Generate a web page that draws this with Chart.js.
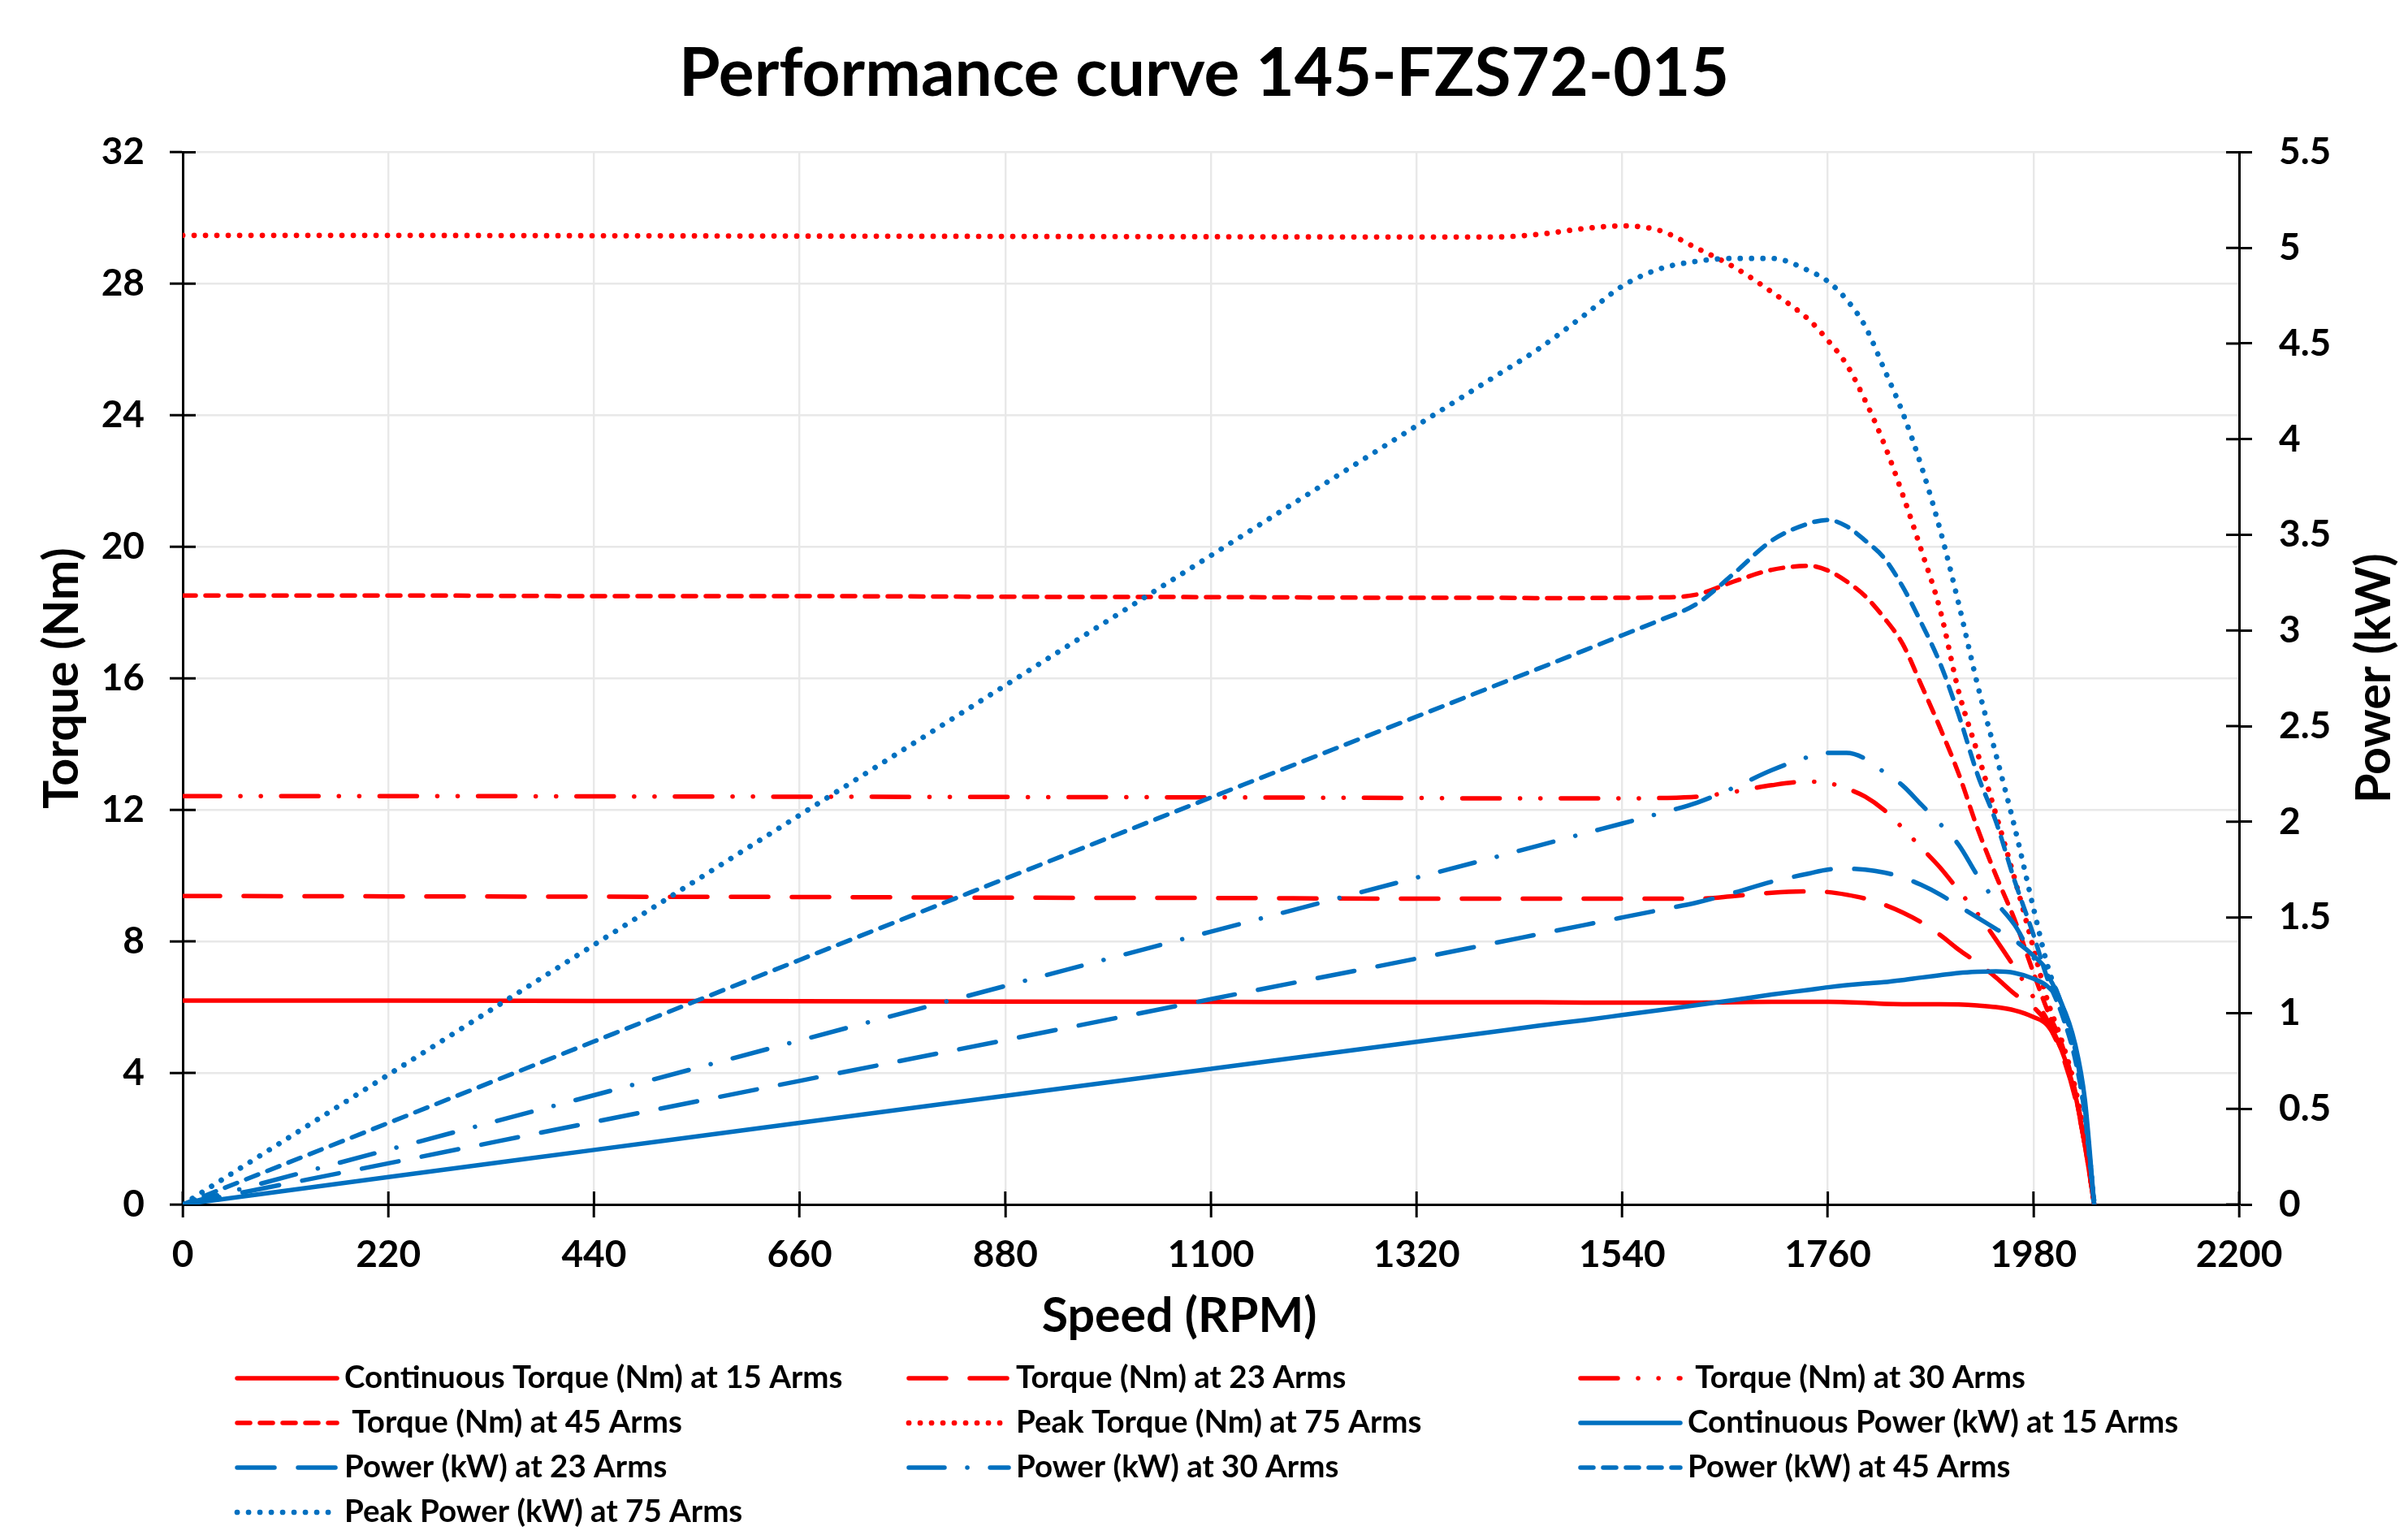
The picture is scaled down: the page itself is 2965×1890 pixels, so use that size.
<!DOCTYPE html>
<html>
<head>
<meta charset="utf-8">
<title>Performance curve 145-FZS72-015</title>
<script src="https://cdn.jsdelivr.net/npm/chart.js@4.4.1/dist/chart.umd.min.js"></script>
<style>
  html, body { margin: 0; padding: 0; background: #fff; }
  canvas { display: block; }
</style>
</head>
<body>
<canvas id="perf" width="2965" height="1890"></canvas>
<script>
// speed (RPM) sample points shared by every curve
const speed = [0, 220, 440, 660, 880, 1100, 1320,
  1400, 1450, 1500, 1540, 1580, 1620, 1660, 1700, 1740, 1760, 1780, 1800,
  1820, 1840, 1860, 1880, 1900, 1920, 1940, 1960, 1980,
  1995, 2010, 2025, 2035, 2045];

// torque (Nm)
const contTorque15 = [6.20, 6.20, 6.19, 6.18, 6.17, 6.16, 6.15,
  6.15, 6.15, 6.14, 6.14, 6.14, 6.14, 6.15, 6.16, 6.16, 6.16, 6.15, 6.13,
  6.10, 6.09, 6.09, 6.09, 6.08, 6.05, 6.00, 5.90, 5.70,
  5.45, 4.70, 3.30, 1.80, 0];
const torque23 = [9.38, 9.37, 9.36, 9.35, 9.33, 9.32, 9.30,
  9.30, 9.30, 9.30, 9.30, 9.30, 9.30, 9.38, 9.48, 9.52, 9.50, 9.42, 9.30,
  9.12, 8.88, 8.58, 8.20, 7.75, 7.35, 6.90, 6.40, 6.00,
  5.50, 4.60, 3.20, 1.80, 0];
const torque30 = [12.42, 12.42, 12.41, 12.40, 12.39, 12.38, 12.36,
  12.35, 12.35, 12.35, 12.35, 12.36, 12.40, 12.55, 12.75, 12.86, 12.82, 12.65, 12.40,
  12.00, 11.45, 10.85, 10.25, 9.55, 8.85, 8.05, 7.20, 6.30,
  5.60, 4.70, 3.30, 1.80, 0];
const torque45 = [18.52, 18.52, 18.50, 18.50, 18.48, 18.47, 18.45,
  18.45, 18.44, 18.44, 18.45, 18.46, 18.55, 18.95, 19.30, 19.42, 19.28, 18.95, 18.50,
  17.85, 17.05, 15.80, 14.50, 13.10, 11.45, 10.00, 8.65, 7.05,
  5.90, 4.90, 3.40, 1.90, 0];
const peakTorque75 = [29.47, 29.47, 29.46, 29.45, 29.44, 29.43, 29.42,
  29.42, 29.50, 29.68, 29.76, 29.62, 29.08, 28.50, 27.75, 26.90, 26.28, 25.55, 24.45,
  23.15, 21.60, 19.90, 18.10, 15.60, 13.75, 11.85, 9.90, 7.80,
  6.20, 5.00, 3.50, 2.00, 0];

// power (kW)
const contPower15 = [0, 0.143, 0.285, 0.427, 0.568, 0.709, 0.850,
  0.901, 0.934, 0.964, 0.990, 1.016, 1.042, 1.069, 1.097, 1.122, 1.135, 1.146, 1.155,
  1.162, 1.173, 1.186, 1.198, 1.210, 1.216, 1.218, 1.210, 1.180,
  1.140, 1.050, 0.830, 0.550, 0];
const power23 = [0, 0.215, 0.431, 0.646, 0.859, 1.073, 1.285,
  1.363, 1.412, 1.461, 1.500, 1.539, 1.578, 1.630, 1.687, 1.730, 1.750, 1.755, 1.750,
  1.735, 1.710, 1.670, 1.620, 1.560, 1.500, 1.440, 1.380, 1.300,
  1.220, 1.050, 0.800, 0.500, 0];
const power30 = [0, 0.286, 0.571, 0.857, 1.142, 1.426, 1.708,
  1.810, 1.875, 1.940, 1.991, 2.044, 2.100, 2.180, 2.270, 2.340, 2.360, 2.360, 2.330,
  2.260, 2.190, 2.090, 1.990, 1.880, 1.720, 1.580, 1.460, 1.290,
  1.200, 1.050, 0.800, 0.500, 0];
const power45 = [0, 0.426, 0.852, 1.278, 1.703, 2.127, 2.550,
  2.704, 2.800, 2.897, 2.975, 3.053, 3.140, 3.300, 3.470, 3.560, 3.578, 3.545, 3.470,
  3.380, 3.230, 3.040, 2.830, 2.560, 2.250, 2.000, 1.690, 1.410,
  1.180, 1.000, 0.750, 0.470, 0];
const peakPower75 = [0, 0.678, 1.357, 2.035, 2.713, 3.392, 4.070,
  4.316, 4.470, 4.650, 4.800, 4.890, 4.930, 4.945, 4.945, 4.880, 4.825, 4.730, 4.590,
  4.370, 4.140, 3.860, 3.530, 3.140, 2.720, 2.350, 1.970, 1.550,
  1.250, 1.030, 0.780, 0.480, 0];

// axis ticks
const speedTicks = [0, 220, 440, 660, 880, 1100, 1320, 1540, 1760, 1980, 2200];
const torqueTicks = [0, 4, 8, 12, 16, 20, 24, 28, 32];
const powerTicks = [0, 0.5, 1, 1.5, 2, 2.5, 3, 3.5, 4, 4.5, 5, 5.5];

const RED = '#FF0000';
const BLUE = '#0070C0';
const FONT = 'Lato, "Open Sans", sans-serif';
const SOLID = [];
const LONG_DASH = [46, 29];
const DASH_DOT = [44, 28, 0.1, 28];
const DASH_DOT_DOT = [46, 25, 0.1, 25, 0.1, 25];
const SHORT_DASH = [16, 12];
const ROUND_DOT = [0.1, 13.9];

const series = [
  { label: 'Continuous Torque (Nm) at 15 Arms', values: contTorque15, axis: 'y', color: RED, dash: SOLID },
  { label: 'Torque (Nm) at 23 Arms', values: torque23, axis: 'y', color: RED, dash: LONG_DASH },
  { label: ' Torque (Nm) at 30 Arms', values: torque30, axis: 'y', color: RED, dash: DASH_DOT_DOT },
  { label: ' Torque (Nm) at 45 Arms', values: torque45, axis: 'y', color: RED, dash: SHORT_DASH },
  { label: 'Peak Torque (Nm) at 75 Arms', values: peakTorque75, axis: 'y', color: RED, dash: ROUND_DOT },
  { label: 'Continuous Power (kW) at 15 Arms', values: contPower15, axis: 'y1', color: BLUE, dash: SOLID },
  { label: 'Power (kW) at 23 Arms', values: power23, axis: 'y1', color: BLUE, dash: LONG_DASH },
  { label: 'Power (kW) at 30 Arms', values: power30, axis: 'y1', color: BLUE, dash: DASH_DOT },
  { label: 'Power (kW) at 45 Arms', values: power45, axis: 'y1', color: BLUE, dash: SHORT_DASH },
  { label: 'Peak Power (kW) at 75 Arms', values: peakPower75, axis: 'y1', color: BLUE, dash: ROUND_DOT }
];

Chart.defaults.font.family = FONT;
Chart.defaults.font.weight = 'bold';
Chart.defaults.color = '#000';

const datasets = series.map((s, i) => ({
  label: s.label,
  data: s.values.map((v, k) => ({ x: speed[k], y: v })),
  yAxisID: s.axis,
  borderColor: s.color,
  backgroundColor: s.color,
  borderWidth: s.dash === ROUND_DOT ? 6.7 : 5.5,
  borderDash: s.dash,
  borderCapStyle: 'round',
  borderJoinStyle: 'round',
  pointRadius: 0,
  cubicInterpolationMode: 'monotone',
  fill: false,
  order: series.length - i
}));

const useTicks = list => scale => { scale.ticks = list.map(v => ({ value: v })); };

// inner half of the crossing tick marks, axis titles drawn by hand, grid legend
const chartDecor = {
  id: 'chartDecor',
  beforeDatasetsDraw(chart) {
    const { ctx, chartArea: a, scales } = chart;
    ctx.save();
    ctx.strokeStyle = '#000';
    ctx.lineWidth = 3;
    ctx.beginPath();
    scales.x.ticks.forEach(t => {
      const px = scales.x.getPixelForValue(t.value);
      ctx.moveTo(px, a.bottom);
      ctx.lineTo(px, a.bottom - 16);
    });
    scales.y.ticks.forEach(t => {
      const py = scales.y.getPixelForValue(t.value);
      ctx.moveTo(a.left, py);
      ctx.lineTo(a.left + 16, py);
    });
    scales.y1.ticks.forEach(t => {
      const py = scales.y1.getPixelForValue(t.value);
      ctx.moveTo(a.right, py);
      ctx.lineTo(a.right - 16, py);
    });
    ctx.stroke();
    ctx.restore();
  },
  afterDraw(chart) {
    const { ctx, chartArea: a, scales } = chart;
    ctx.save();
    ctx.fillStyle = '#000';
    ctx.font = 'bold 59px ' + FONT;
    ctx.textAlign = 'center';
    ctx.textBaseline = 'middle';
    ctx.fillText('Speed (RPM)', (a.left + a.right) / 2 - 39, scales.x.bottom - 42);
    ctx.translate(scales.y1.right - 41, (a.top + a.bottom) / 2);
    ctx.rotate(-Math.PI / 2);
    ctx.fillText('Power (kW)', 0, 0);
    ctx.restore();

    const left = 292, top = 1697, colWidth = 827, rowHeight = 55, sample = 123;
    ctx.save();
    ctx.font = 'bold 38.5px ' + FONT;
    ctx.textBaseline = 'middle';
    ctx.textAlign = 'left';
    chart.data.datasets.forEach((ds, i) => {
      const x = left + (i % 3) * colWidth;
      const y = top + Math.floor(i / 3) * rowHeight;
      ctx.strokeStyle = ds.borderColor;
      ctx.lineWidth = ds.borderWidth;
      ctx.lineCap = 'round';
      ctx.setLineDash(ds.borderDash);
      ctx.beginPath();
      ctx.moveTo(x, y);
      ctx.lineTo(x + sample, y);
      ctx.stroke();
      ctx.setLineDash([]);
      ctx.fillStyle = '#000';
      ctx.fillText(ds.label, x + sample + 9, y);
    });
    ctx.restore();
  }
};

new Chart(document.getElementById('perf'), {
  type: 'line',
  data: { datasets },
  options: {
    responsive: false,
    animation: false,
    events: [],
    layout: { padding: { left: 0, right: 0, top: 0, bottom: 227 } },
    plugins: {
      legend: { display: false },
      tooltip: { enabled: false },
      title: {
        display: true,
        text: 'Performance curve 145-FZS72-015',
        color: '#000',
        font: { size: 82, weight: 'bold' },
        padding: { top: 42, bottom: 47 }
      }
    },
    scales: {
      x: {
        type: 'linear',
        min: 0,
        max: 2200,
        afterBuildTicks: useTicks(speedTicks),
        afterFit: s => { s.height = 180; },
        ticks: { font: { size: 46 }, padding: 19, callback: v => String(v) },
        grid: { color: '#e8e8e8', lineWidth: 2.4, tickLength: 16, tickColor: '#000', tickWidth: 3 },
        border: { color: '#000', width: 3 },
        title: { display: false }
      },
      y: {
        position: 'left',
        min: 0,
        max: 32,
        afterBuildTicks: useTicks(torqueTicks),
        afterFit: s => { s.width = 225; },
        ticks: { font: { size: 46 }, padding: 31, callback: v => String(v) },
        grid: { color: '#e8e8e8', lineWidth: 2.4, tickLength: 16, tickColor: '#000', tickWidth: 3 },
        border: { color: '#000', width: 3 },
        title: { display: true, text: 'Torque (Nm)', font: { size: 59 }, padding: { top: 42, bottom: 0 } }
      },
      y1: {
        position: 'right',
        min: 0,
        max: 5.5,
        afterBuildTicks: useTicks(powerTicks),
        afterFit: s => { s.width = 208; },
        ticks: { font: { size: 46 }, padding: 33, callback: v => String(v) },
        grid: { drawOnChartArea: false, tickLength: 16, tickColor: '#000', tickWidth: 3 },
        border: { color: '#000', width: 3 },
        title: { display: false }
      }
    }
  },
  plugins: [chartDecor]
});
</script>
</body>
</html>
